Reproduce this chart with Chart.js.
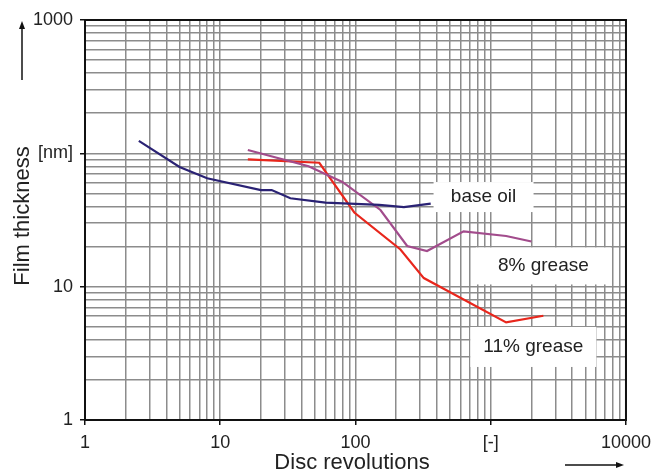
<!DOCTYPE html>
<html>
<head>
<meta charset="utf-8">
<script src="https://cdn.jsdelivr.net/npm/chart.js@4.4.0/dist/chart.umd.min.js"></script>
<style>
  html, body { margin: 0; padding: 0; background: #fff; }
  #wrap { width: 658px; height: 472px; }
</style>
</head>
<body>
<div id="wrap"><canvas id="filmChart"></canvas></div>
<script>
// data
const baseOilX = [2.5, 5, 8, 20, 24, 33, 60, 150, 228, 360];
const baseOilY = [124, 79, 65, 53, 53, 46, 42.7, 41, 39.5, 42];

const grease8X = [16, 45, 80, 153, 241, 338, 630, 1300, 2000];
const grease8Y = [106, 80, 61, 37.6, 20.2, 18.5, 26, 24, 21.8];

const grease11X = [16, 54, 98, 215, 320, 1300, 2450];
const grease11Y = [90, 85, 36, 19, 11.6, 5.4, 6.05];

// tick labels
const xTickValues = [1, 10, 100, 1000, 10000];
const xTickLabels = ['1', '10', '100', '[-]', '10000'];
const yTickValues = [1, 10, 100, 1000];
const yTickLabels = ['1', '10', '[nm]', '1000'];
const gridSteps = [1, 2, 3, 4, 5, 6, 7, 8, 9];

// in-plot labels (anchored in data units)
const labelTexts = ['base oil', '8% grease', '11% grease'];
const labelX = [885, 2450, 2065];
const labelY = [47, 14.3, 3.53];

const FONT = '"Liberation Sans", Arial, sans-serif';

function pairs(xs, ys) {
    return xs.map((x, i) => ({ x: x, y: ys[i] }));
}

function logTicks(decades, last) {
    const out = [];
    decades.forEach(d => gridSteps.forEach(s => out.push(d * s)));
    out.push(last);
    return out.map(v => ({ value: v }));
}

const decoPlugin = {
    id: 'deco',
    beforeDatasetsDraw(chart) {
        const ctx = chart.ctx;
        const xs = chart.scales.x, ys = chart.scales.y;
        const sizes = [[100, 30], [135, 37], [126, 40]];
        ctx.save();
        labelTexts.forEach((t, i) => {
            const cx = xs.getPixelForValue(labelX[i]);
            const cy = ys.getPixelForValue(labelY[i]);
            const w = sizes[i][0], h = sizes[i][1];
            ctx.fillStyle = '#fff';
            ctx.fillRect(cx - w / 2, cy - h / 2, w, h);
            ctx.fillStyle = '#222';
            ctx.font = '19px ' + FONT;
            ctx.textAlign = 'center';
            ctx.textBaseline = 'middle';
            ctx.fillText(t, cx, cy);
        });
        ctx.restore();
    },
    afterDraw(chart) {
        const ctx = chart.ctx;
        const a = chart.chartArea;
        ctx.save();
        // frame
        ctx.strokeStyle = '#111';
        ctx.lineWidth = 2;
        ctx.strokeRect(a.left, a.top, a.right - a.left, a.bottom - a.top);

        // axis titles
        ctx.fillStyle = '#222';
        ctx.font = '22px ' + FONT;
        ctx.textAlign = 'center';
        ctx.textBaseline = 'middle';
        ctx.fillText('Disc revolutions', 352, 463);
        ctx.save();
        ctx.translate(23, 216);
        ctx.rotate(-Math.PI / 2);
        ctx.fillText('Film thickness', 0, 0);
        ctx.restore();

        // arrows
        ctx.strokeStyle = '#111';
        ctx.fillStyle = '#111';
        ctx.lineWidth = 1.5;
        ctx.beginPath();
        ctx.moveTo(22, 80);
        ctx.lineTo(22, 26);
        ctx.stroke();
        ctx.beginPath();
        ctx.moveTo(22, 21);
        ctx.lineTo(19, 29);
        ctx.lineTo(25, 29);
        ctx.closePath();
        ctx.fill();

        ctx.beginPath();
        ctx.moveTo(565, 465);
        ctx.lineTo(618, 465);
        ctx.stroke();
        ctx.beginPath();
        ctx.moveTo(624, 465);
        ctx.lineTo(616, 462);
        ctx.lineTo(616, 468);
        ctx.closePath();
        ctx.fill();
        ctx.restore();
    }
};

const gridCommon = {
    color: '#8c8c8c',
    lineWidth: 1.5,
    drawTicks: true,
    tickLength: 5,
    tickWidth: 1.5,
    tickColor: c => (c.tick && Math.log10(c.tick.value) % 1 === 0) ? '#111' : 'rgba(0,0,0,0)'
};

new Chart(document.getElementById('filmChart'), {
    type: 'line',
    data: {
        datasets: [
            { label: 'base oil', data: pairs(baseOilX, baseOilY), borderColor: '#2a2274', borderWidth: 2.2 },
            { label: '8% grease', data: pairs(grease8X, grease8Y), borderColor: '#a24c8c', borderWidth: 2.2 },
            { label: '11% grease', data: pairs(grease11X, grease11Y), borderColor: '#e8261c', borderWidth: 2.2 }
        ]
    },
    options: {
        responsive: true,
        maintainAspectRatio: false,
        animation: false,
        layout: { padding: { left: 0, right: 30, top: 20, bottom: 0 } },
        elements: { point: { radius: 0 }, line: { tension: 0, fill: false } },
        plugins: { legend: { display: false }, tooltip: { enabled: false } },
        scales: {
            x: {
                type: 'logarithmic',
                min: 1,
                max: 10000,
                border: { display: false },
                grid: gridCommon,
                afterBuildTicks: s => { s.ticks = logTicks([1, 10, 100, 1000], 10000); },
                afterFit: s => { s.height = 52; },
                ticks: {
                    autoSkip: false,
                    maxRotation: 0,
                    padding: 7,
                    color: '#222',
                    font: { family: FONT, size: 18 },
                    callback: v => {
                        const i = xTickValues.indexOf(v);
                        return i >= 0 ? xTickLabels[i] : '';
                    }
                }
            },
            y: {
                type: 'logarithmic',
                min: 1,
                max: 1000,
                border: { display: false },
                grid: gridCommon,
                afterBuildTicks: s => { s.ticks = logTicks([1, 10, 100], 1000); },
                afterFit: s => { s.width = 85; },
                ticks: {
                    autoSkip: false,
                    padding: 7,
                    color: '#222',
                    font: { family: FONT, size: 18 },
                    callback: v => {
                        const i = yTickValues.indexOf(v);
                        return i >= 0 ? yTickLabels[i] : '';
                    }
                }
            }
        }
    },
    plugins: [decoPlugin]
});
</script>
</body>
</html>
